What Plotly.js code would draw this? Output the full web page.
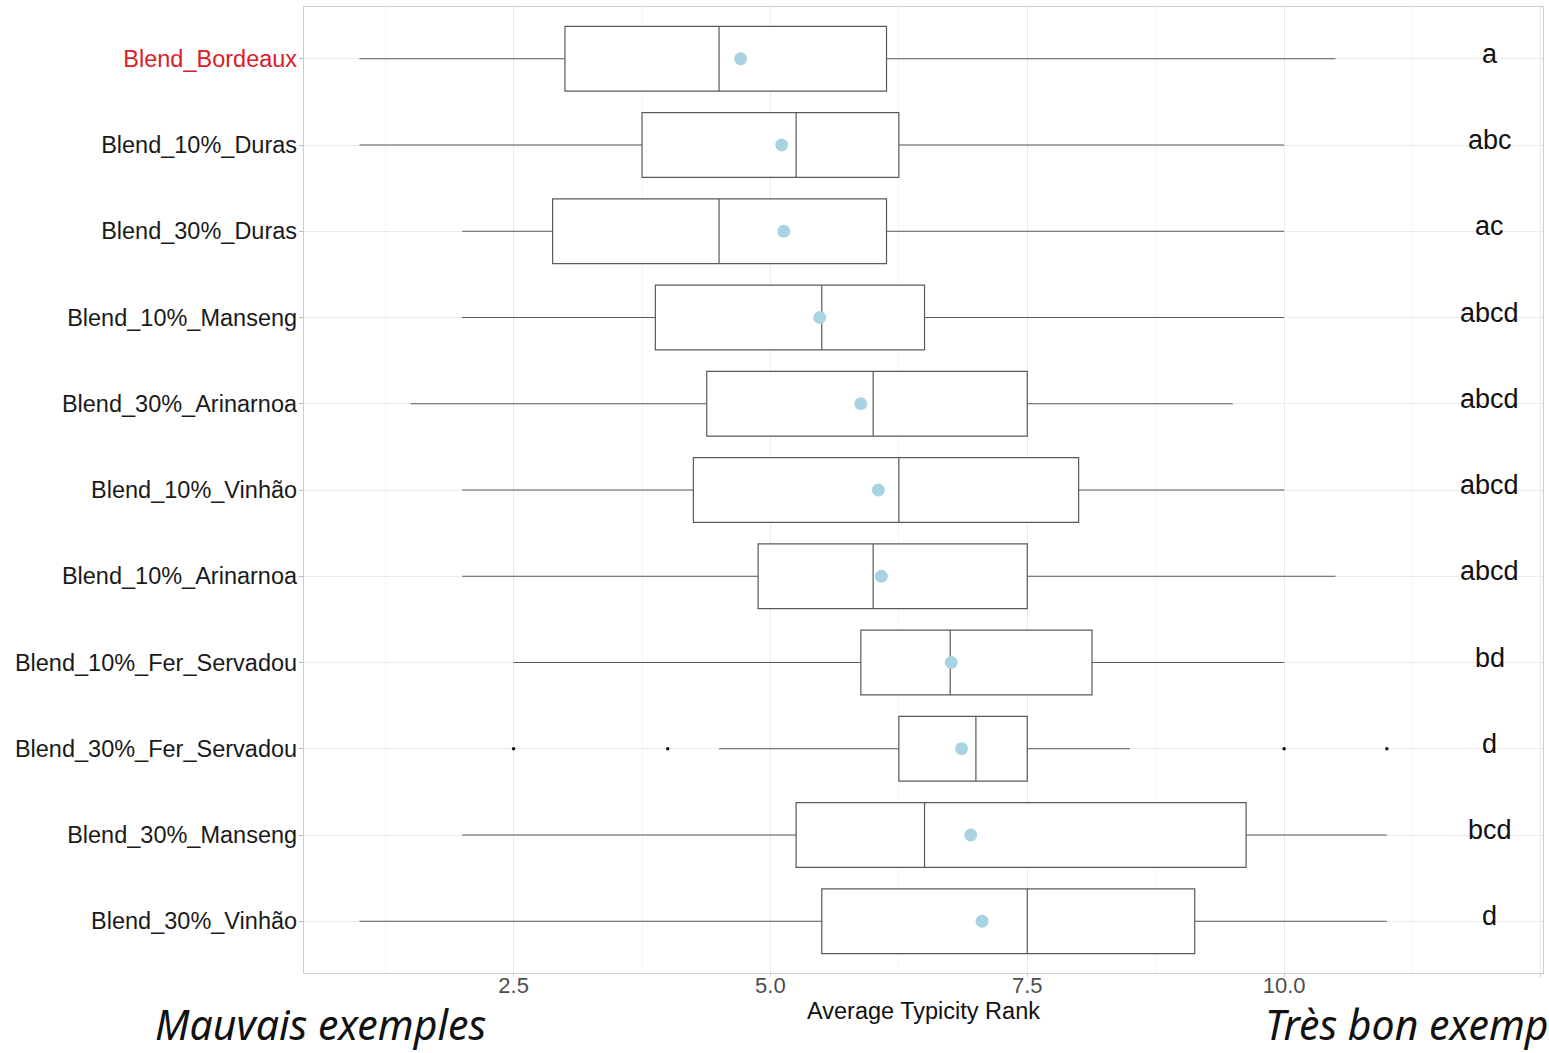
<!DOCTYPE html>
<html>
<head>
<meta charset="utf-8">
<script src="https://cdn.plot.ly/plotly-3.0.1.min.js"></script>
<style>html,body{margin:0;padding:0;background:#fff;}#chart{width:1549px;height:1053px;}</style>
</head>
<body>
<div id="chart"></div>
<script>
// Categories, top to bottom as shown
const categories = ["Blend_Bordeaux","Blend_10%_Duras","Blend_30%_Duras","Blend_10%_Manseng","Blend_30%_Arinarnoa","Blend_10%_Vinhão","Blend_10%_Arinarnoa","Blend_10%_Fer_Servadou","Blend_30%_Fer_Servadou","Blend_30%_Manseng","Blend_30%_Vinhão"];
const lowerWhisker = [1.0, 1.0, 2.0, 2.0, 1.5, 2.0, 2.0, 2.5, 4.5, 2.0, 1.0];
const q1Values     = [3.0, 3.75, 2.88, 3.88, 4.38, 4.25, 4.88, 5.88, 6.25, 5.25, 5.5];
const medianValues = [4.5, 5.25, 4.5, 5.5, 6.0, 6.25, 6.0, 6.75, 7.0, 6.5, 7.5];
const q3Values     = [6.13, 6.25, 6.13, 6.5, 7.5, 8.0, 7.5, 8.13, 7.5, 9.63, 9.13];
const upperWhisker = [10.5, 10.0, 10.0, 10.0, 9.5, 10.0, 10.5, 10.0, 8.5, 11.0, 11.0];
const meanValues   = [4.71, 5.11, 5.13, 5.48, 5.88, 6.05, 6.08, 6.76, 6.86, 6.95, 7.06];
const groupLetters = ["a","abc","ac","abcd","abcd","abcd","abcd","bd","d","bcd","d"];
const outlierCategory = ["Blend_30%_Fer_Servadou","Blend_30%_Fer_Servadou","Blend_30%_Fer_Servadou","Blend_30%_Fer_Servadou"];
const outlierValues = [2.5, 4.0, 10.0, 11.0];
const xTickVals = [2.5, 5.0, 7.5, 10.0, 12.5];
const xTickText = ["2.5","5.0","7.5","10.0","12.5"];
const highlighted = "Blend_Bordeaux";
const letterX = 12;

const catOrder = categories.slice().reverse(); // bottom to top
const tickText = catOrder.map(c => c === highlighted ? '<span style="color:#d9202a">' + c + '</span>' : c);

const traces = [
  {
    type: 'box', orientation: 'h',
    y: categories, q1: q1Values, median: medianValues, q3: q3Values,
    lowerfence: lowerWhisker, upperfence: upperWhisker,
    boxpoints: false, width: 0.75, whiskerwidth: 0,
    fillcolor: '#ffffff', line: {color: '#5a5a5a', width: 1.2},
    hoverinfo: 'skip', showlegend: false
  },
  {
    type: 'scatter', mode: 'markers', x: outlierValues, y: outlierCategory,
    marker: {color: '#111', size: 3.5}, showlegend: false, hoverinfo: 'skip'
  },
  {
    type: 'scatter', mode: 'markers', x: meanValues, y: categories,
    marker: {color: '#a8d3e3', size: 13}, showlegend: false, hoverinfo: 'skip'
  }
];

const annotations = categories.map((c, i) => ({
  x: letterX, y: c, xref: 'x', yref: 'y', text: groupLetters[i], showarrow: false,
  yshift: 5, font: {family: 'Liberation Sans, Arial, sans-serif', size: 27, color: '#111'}
}));
annotations.push({
  xref: 'paper', yref: 'paper', x: -0.122, y: -0.053, xanchor: 'left', yanchor: 'middle',
  text: '<i>Mauvais exemples</i>', showarrow: false,
  font: {family: 'Noto Sans, sans-serif', size: 41, color: '#111'}
});
annotations.push({
  xref: 'paper', yref: 'paper', x: 0.774, y: -0.053, xanchor: 'left', yanchor: 'middle',
  text: '<i>Très bon exemples</i>', showarrow: false,
  font: {family: 'Noto Sans, sans-serif', size: 41, color: '#111'}
});

const layout = {
  width: 1549, height: 1053,
  margin: {l: 304, r: 6, t: 7, b: 80},
  paper_bgcolor: '#fff', plot_bgcolor: '#fff',
  font: {family: 'Liberation Sans, Arial, sans-serif'},
  xaxis: {
    range: [0.46, 12.52], tickvals: xTickVals, ticktext: xTickText,
    showgrid: true, gridcolor: '#ebebeb', gridwidth: 1,
    minor: {dtick: 1.25, tick0: 0, showgrid: true, gridcolor: '#f6f6f6', gridwidth: 1},
    showline: true, mirror: true, linecolor: '#cccccc', linewidth: 1.2,
    ticks: 'outside', ticklen: 3, tickcolor: '#cccccc', ticklabelstandoff: -11,
    tickfont: {size: 22, color: '#4d4d4d'},
    zeroline: false, automargin: false,
    title: {text: 'Average Typicity Rank', font: {size: 23.5, color: '#111'}, standoff: 0}
  },
  yaxis: {
    type: 'category', categoryorder: 'array', categoryarray: catOrder,
    range: [-0.6, 10.6], tickvals: catOrder, ticktext: tickText,
    showgrid: true, gridcolor: '#ebebeb', gridwidth: 1,
    showline: true, mirror: true, linecolor: '#cccccc', linewidth: 1.2,
    ticks: 'outside', ticklen: 4, tickcolor: '#bbbbbb', ticklabelstandoff: -3,
    tickfont: {size: 23.5, color: '#1a1a1a'},
    zeroline: false, automargin: false
  },
  annotations: annotations
};

Plotly.newPlot('chart', traces, layout, {staticPlot: true, displayModeBar: false});
</script>
</body>
</html>
